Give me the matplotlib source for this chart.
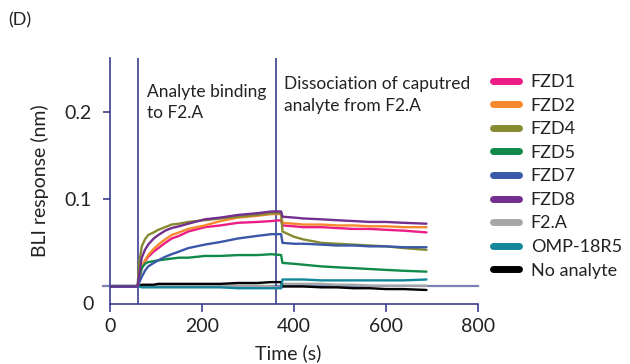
import numpy as np
import matplotlib.pyplot as plt

plt.rcParams['font.family'] = ['Lato', 'DejaVu Sans']

# time points (s)
t = [0, 60, 63, 69, 76, 83, 95, 105, 120, 134, 150, 170, 206, 240, 278, 320, 351, 372,
     375, 400, 420, 460, 493, 530, 565, 600, 638, 688]

fzd1 = [0, 0, 0.008, 0.021, 0.029, 0.034, 0.040, 0.044, 0.050, 0.055, 0.058, 0.063, 0.068, 0.070,
        0.073, 0.074, 0.075, 0.076, 0.070, 0.069, 0.068, 0.068, 0.067, 0.066, 0.066, 0.065, 0.064, 0.062]
fzd2 = [0, 0, 0.008, 0.022, 0.030, 0.036, 0.043, 0.048, 0.054, 0.059, 0.062, 0.066, 0.070, 0.075,
        0.079, 0.081, 0.083, 0.083, 0.073, 0.072, 0.071, 0.071, 0.070, 0.070, 0.069, 0.069, 0.068, 0.068]
fzd4 = [0, 0, 0.025, 0.046, 0.054, 0.059, 0.062, 0.065, 0.068, 0.071, 0.072, 0.074, 0.076, 0.078,
        0.080, 0.082, 0.084, 0.084, 0.063, 0.057, 0.054, 0.050, 0.049, 0.048, 0.047, 0.046, 0.044, 0.042]
fzd5 = [0, 0, 0.010, 0.021, 0.026, 0.028, 0.029, 0.030, 0.031, 0.032, 0.033, 0.033, 0.035, 0.035,
        0.036, 0.036, 0.037, 0.036, 0.027, 0.026, 0.025, 0.023, 0.022, 0.021, 0.020, 0.019, 0.018, 0.017]
fzd7 = [0, 0, 0.004, 0.011, 0.018, 0.023, 0.027, 0.030, 0.034, 0.037, 0.040, 0.044, 0.048, 0.051,
        0.055, 0.058, 0.060, 0.060, 0.050, 0.049, 0.049, 0.048, 0.047, 0.047, 0.046, 0.046, 0.045, 0.045]
fzd8 = [0, 0, 0.012, 0.033, 0.042, 0.048, 0.055, 0.059, 0.064, 0.067, 0.069, 0.072, 0.077, 0.079,
        0.082, 0.084, 0.086, 0.086, 0.080, 0.079, 0.078, 0.077, 0.076, 0.075, 0.074, 0.074, 0.073, 0.072]
f2a = [0.001, 0.001, 0.000, 0.001, 0.001, 0.001, 0.001, 0.001, 0.001, 0.001, 0.001, 0.001, 0.001, 0.001,
       0.001, 0.001, 0.000, -0.002, 0.003, 0.003, 0.003, 0.003, 0.002, 0.002, 0.001, 0.001, 0.001, 0.001]
omp = [0, 0, 0, -0.001, -0.001, -0.001, -0.001, -0.001, -0.001, -0.001, -0.001, -0.001, -0.001, -0.001,
       -0.002, -0.002, -0.002, -0.002, 0.008, 0.008, 0.008, 0.007, 0.007, 0.007, 0.007, 0.007, 0.007, 0.008]
none = [0, 0, 0.001, 0.002, 0.002, 0.002, 0.002, 0.003, 0.003, 0.003, 0.003, 0.003, 0.003, 0.003,
        0.004, 0.004, 0.005, 0.005, 0.000, 0.000, 0.000, -0.001, -0.001, -0.002, -0.002, -0.003, -0.003, -0.004]

labels = ['FZD1', 'FZD2', 'FZD4', 'FZD5', 'FZD7', 'FZD8', 'F2.A', 'OMP-18R5', 'No analyte']
series = [fzd1, fzd2, fzd4, fzd5, fzd7, fzd8, f2a, omp, none]
colors = ['#ec1c86', '#f6892d', '#878a30', '#10894a', '#3a58a7', '#732f8d', '#a6a7a9', '#13869a', '#000000']
zorders = [3, 3, 3, 3, 3, 4, 2, 3, 2]

phase_times = [60, 361]
xticks = [0, 200, 400, 600, 800]

navy = '#3b3e8e'

fig = plt.figure(figsize=(6.3, 3.64), dpi=100)
ax = fig.add_axes([110 / 630, 1 - 304 / 364, 368 / 630, 246 / 364])

for y, lab, c, z in zip(series, labels, colors, zorders):
    ax.plot(t, y, color=c, lw=1.7, label=lab, zorder=z, solid_capstyle='round')

ax.plot([-16, 800], [0, 0], color='#7d81b6', lw=1.6, zorder=1, clip_on=False)
for pt in phase_times:
    ax.axvline(pt, color=navy, lw=1.2, zorder=1)

ax.set_xlim(0, 800)
ax.set_ylim(-0.0201, 0.262)
ax.set_xticks(xticks)
ax.set_yticks([0.1, 0.2])
ax.set_yticklabels(['0.1', '0.2'])
ax.text(-0.045, -0.0201, '0', transform=ax.get_yaxis_transform(), ha='right', va='center',
        fontsize=14, color='#222222')

for s in ['top', 'right']:
    ax.spines[s].set_visible(False)
for s in ['left', 'bottom']:
    ax.spines[s].set_color(navy)
    ax.spines[s].set_linewidth(1.2)
ax.tick_params(axis='both', colors=navy, labelcolor='#222222', labelsize=14, width=1.2)
ax.tick_params(axis='x', length=6, pad=4)
ax.tick_params(axis='y', length=5, pad=8)

fig.text(40 / 630, 1 - 181 / 364, 'BLI response (nm)', rotation=90, ha='center', va='center',
         fontsize=14, color='#222222')
fig.text(288 / 630, 1 - 353 / 364, 'Time (s)', ha='center', va='center', fontsize=14, color='#222222')
fig.text(8 / 630, 1 - 25 / 364, '(D)', ha='left', va='baseline', fontsize=13, color='#222222')

ann = [(147, 97, 'Analyte binding'), (147, 118, 'to F2.A'),
       (284, 89, 'Dissociation of caputred'), (284, 111, 'analyte from F2.A')]
for px, py, s in ann:
    fig.text(px / 630, 1 - py / 364, s, ha='left', va='baseline', fontsize=12.5, color='#222222')

leg = ax.legend(loc='upper left', bbox_to_anchor=(493 / 630, 1 - 74 / 364),
                bbox_transform=fig.transFigure, frameon=False, fontsize=13,
                handlelength=1.45, handletextpad=0.64, labelspacing=0.42, borderpad=0,
                borderaxespad=0)
for h in leg.get_lines():
    h.set_linewidth(5)
    h.set_solid_capstyle('round')
for txt in leg.get_texts():
    txt.set_color('#222222')

fig.savefig('out.png', dpi=100)
